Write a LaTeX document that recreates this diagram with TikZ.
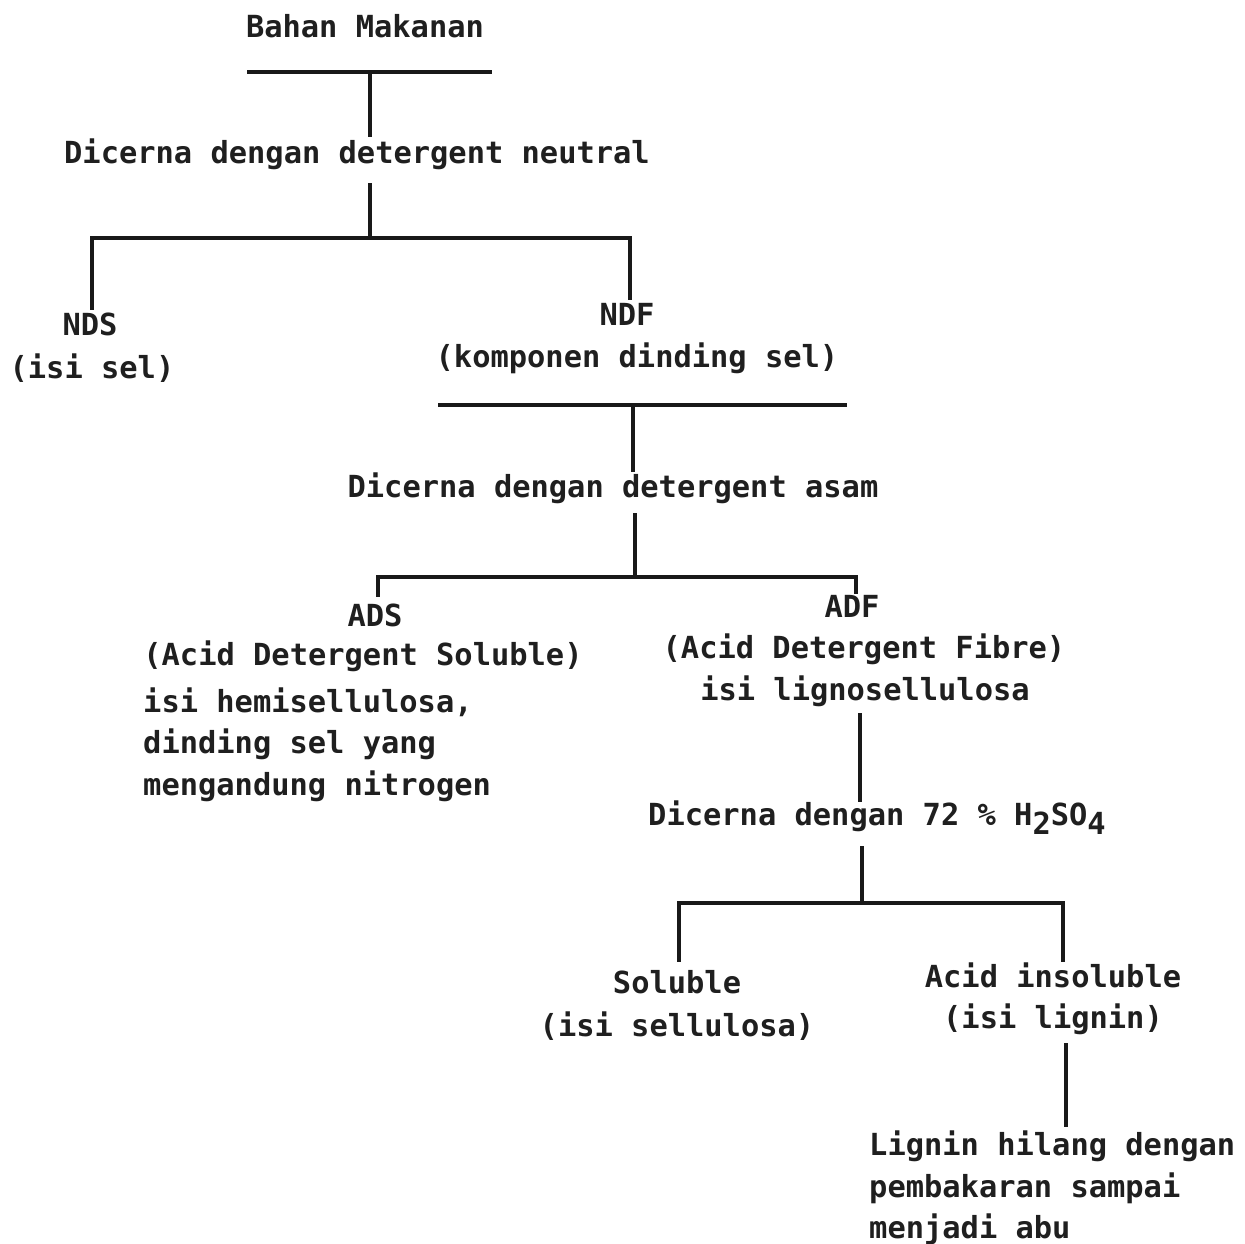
\documentclass[tikz,border=0pt]{standalone}
\usepackage{fontspec}
\newfontfamily\tw{DejaVu Sans Mono}
\begin{document}
\begin{tikzpicture}[x=1pt,y=-1pt,
  lbl/.style={font=\tw\bfseries\fontsize{30.4}{42}\selectfont, inner sep=0pt, anchor=base, text=black!88},
  lblw/.style={lbl, anchor=base west},
  wire/.style={line width=3.2pt, line cap=rect, black!90}]
\useasboundingbox[fill=white] (0,0) rectangle (1245,1244);

% ---- texts ----
\node[lbl] (bahan) at (365,38) {Bahan Makanan};
\node[lbl] (dneu) at (357,164) {Dicerna dengan detergent neutral};
\node[lbl] (nds) at (90,335) {NDS};
\node[lbl] (ndsd) at (92,378) {(isi sel)};
\node[lbl] (ndf) at (627,325) {NDF};
\node[lbl] (ndfd) at (637,367) {(komponen dinding sel)};
\node[lbl] (dasam) at (613,497) {Dicerna dengan detergent asam};
\node[lbl] (ads) at (375,626) {ADS};
\node[lbl] (adsd) at (363,665) {(Acid Detergent Soluble)};
\node[lblw] (adsa) at (143,712) {isi hemisellulosa,};
\node[lblw] (adsb) at (143,753) {dinding sel yang};
\node[lblw] (adsc) at (143,795) {mengandung nitrogen};
\node[lbl] (adf) at (852,617) {ADF};
\node[lbl] (adfd) at (864,658) {(Acid Detergent Fibre)};
\node[lbl] (adfe) at (865,700) {isi lignosellulosa};
\node[lbl] (dh) at (877,825) {Dicerna dengan 72 \% H\raisebox{-0.3em}{2}SO\raisebox{-0.3em}{4}};
\node[lbl] (sol) at (677,993) {Soluble};
\node[lbl] (sold) at (677,1036) {(isi sellulosa)};
\node[lbl] (ins) at (1053,987) {Acid insoluble};
\node[lbl] (insd) at (1053,1028) {(isi lignin)};
\node[lblw] (lga) at (869,1155) {Lignin hilang dengan};
\node[lblw] (lgb) at (869,1197) {pembakaran sampai};
\node[lblw] (lgc) at (869,1238) {menjadi abu};

% ---- junction coordinates ----
\coordinate (b1l) at (249,72);  \coordinate (b1r) at (490,72);
\coordinate (b1c) at (370,72);  \coordinate (d1t) at (370,135);
\coordinate (d1b) at (370,185); \coordinate (j2) at (370,238);
\coordinate (j2l) at (92,238);  \coordinate (j2r) at (630,238);
\coordinate (ndsT) at (92,308); \coordinate (ndfT) at (630,298);
\coordinate (b3l) at (440,405); \coordinate (b3r) at (845,405);
\coordinate (b3c) at (633,405); \coordinate (d3t) at (633,470);
\coordinate (d3b) at (635,515); \coordinate (j4) at (635,577);
\coordinate (j4l) at (378,577); \coordinate (j4r) at (856,577);
\coordinate (adsT) at (378,595); \coordinate (adfT) at (856,592);
\coordinate (a5t) at (860,715); \coordinate (a5b) at (860,800);
\coordinate (d6t) at (862,848); \coordinate (j6) at (862,903);
\coordinate (j6l) at (679,903); \coordinate (j6r) at (1063,903);
\coordinate (solT) at (679,960); \coordinate (insT) at (1063,960);
\coordinate (i7t) at (1066,1045); \coordinate (i7b) at (1066,1125);

% ---- connectors ----
\draw[wire] (b1l) -- (b1r);
\draw[wire] (b1c) -- (d1t);
\draw[wire] (d1b) -- (j2);
\draw[wire] (ndsT) -- (j2l) -- (j2r) -- (ndfT);
\draw[wire] (b3l) -- (b3r);
\draw[wire] (b3c) -- (d3t);
\draw[wire] (d3b) -- (j4);
\draw[wire] (adsT) -- (j4l) -- (j4r) -- (adfT);
\draw[wire] (a5t) -- (a5b);
\draw[wire] (d6t) -- (j6);
\draw[wire] (solT) -- (j6l) -- (j6r) -- (insT);
\draw[wire] (i7t) -- (i7b);
\end{tikzpicture}
\end{document}
